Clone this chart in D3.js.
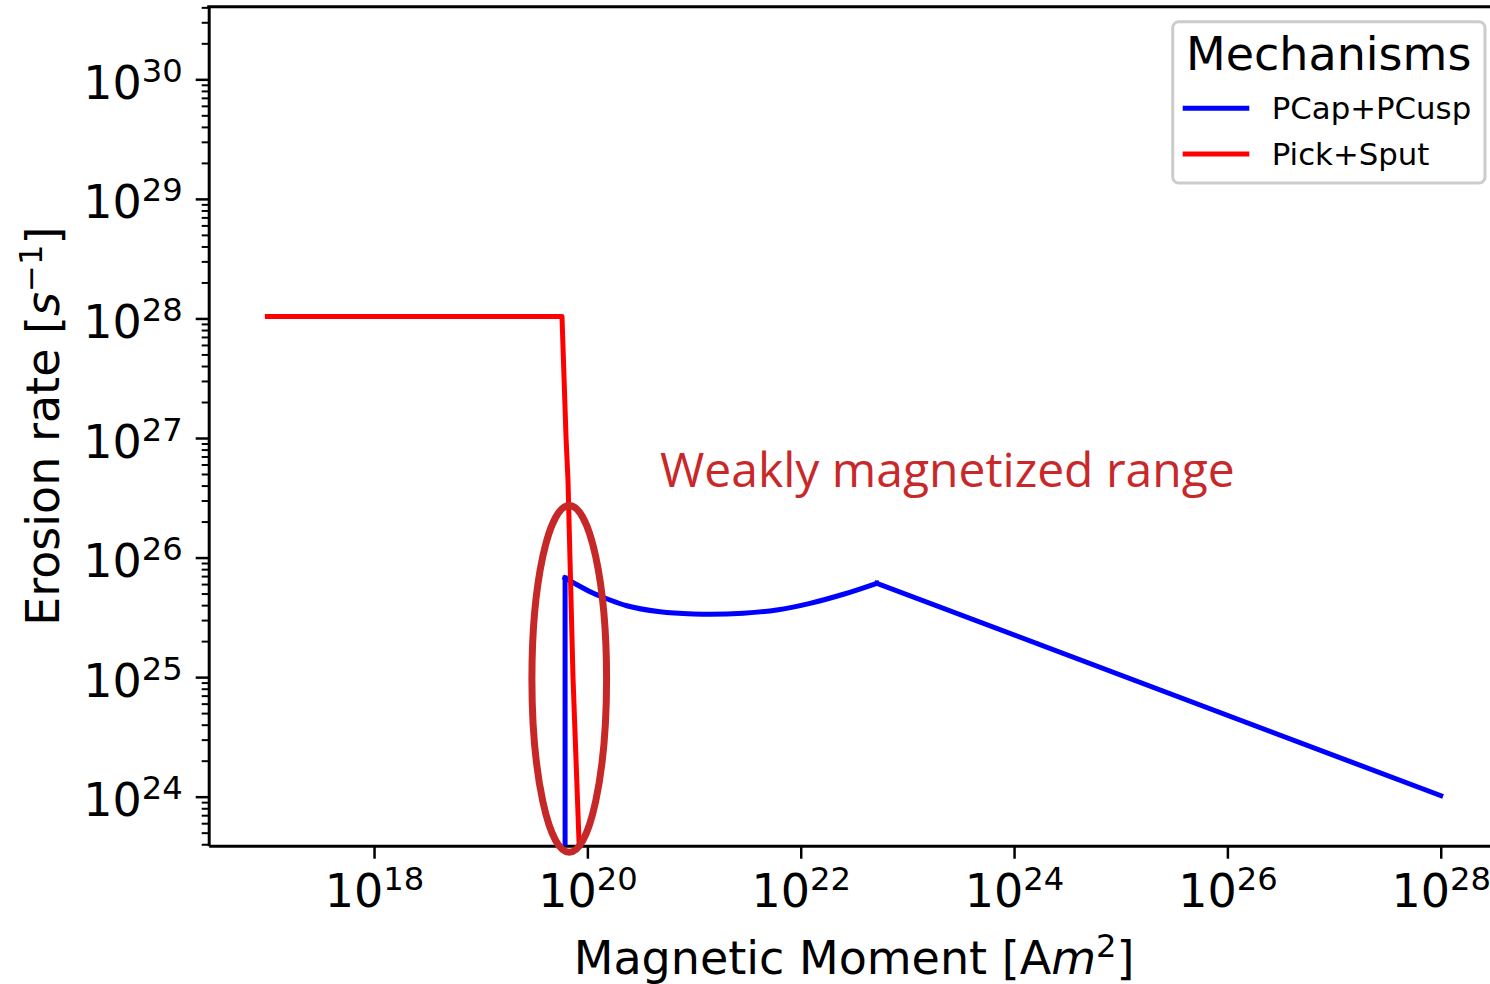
<!DOCTYPE html>
<html>
<head>
<meta charset="utf-8">
<script src="https://cdn.jsdelivr.net/npm/d3@7"></script>
<style>
  body { margin: 0; background: #fff; }
  svg { display: block; }
</style>
</head>
<body>
<div class="chart_area"></div>
<script>
// Pick+Sput (red)
var pickSputMoment = [1e17, 5.78e19, 6.31e19, 6.58e19, 7.33e19, 8.36e19, 8.91e19];
var pickSputRate   = [1.04e28, 1.04e28, 1e27, 4.43e26, 1e25, 4.07e23, 1e23];

// PCap+PCusp (blue)
var pcapMoment = [6.18e19, 6.18e19, 7.38e19, 1.138e20, 1.629e20, 2.339e20, 4.797e20, 9.84e20,
                  1.413e21, 2.897e21, 5.957e21, 1.222e22, 2.512e22, 5.164e22, 1e28];
var pcapRate   = [1e20, 6.745e25, 6.166e25, 5.023e25, 4.416e25, 3.954e25, 3.524e25, 3.373e25,
                  3.35e25, 3.42e25, 3.639e25, 4.14e25, 4.932e25, 6.095e25, 1.02e24];

var mechanisms = ["PCap+PCusp", "Pick+Sput"];
var mechanismColors = ["#0000ff", "#ff0000"];

var xTickExps = [18, 20, 22, 24, 26, 28];
var yTickExps = [24, 25, 26, 27, 28, 29, 30];
var xLimits = [2.818e16, 3.548e28];
var yLimits = [3.89e23, 4.05e30];

// annotation: weakly magnetized range
var rangeLabel = "Weakly magnetized range";
var rangeLabelAt = [4.8e20, 3.9e26];
var ellipseCenter = [6.76e19, 9.66e24];
var ellipseDecades = [0.35, 1.45];

var W = 1490, H = 984;
var margin = {top: 6.7, left: 208.7},
    width = 1290.7,
    height = 839;

var svg = d3.select(".chart_area").append("svg")
    .attr("width", W)
    .attr("height", H)
    .style("font-family", "'DejaVu Sans', sans-serif");

var g = svg.append("g")
    .attr("transform", "translate(" + margin.left + "," + margin.top + ")");

var x = d3.scaleLog().domain(xLimits).range([0, width]);
var y = d3.scaleLog().domain(yLimits).range([height, 0]);

g.append("clipPath").attr("id", "plotclip")
  .append("rect")
    .attr("width", width)
    .attr("height", height);

// minor y ticks
var yMinor = [];
for (var e = 23; e <= 30; e++) {
    for (var m = 2; m <= 9; m++) {
        var v = m * Math.pow(10, e);
        if (v >= yLimits[0] && v <= yLimits[1]) yMinor.push(v);
    }
}

var yMinorAxis = g.append("g")
    .call(d3.axisLeft(y).tickValues(yMinor).tickSize(7).tickSizeOuter(0).tickFormat(""));
yMinorAxis.select(".domain").remove();
yMinorAxis.selectAll("line").attr("stroke", "#000").attr("stroke-width", 2);

function supLabel(sel, exps) {
    sel.each(function(d, i) {
        var t = d3.select(this);
        t.text(null);
        t.append("tspan").text("10");
        t.append("tspan")
          .attr("font-size", "0.7em")
          .attr("dy", -17)
          .text(exps[i]);
    });
}

var yAxis = g.append("g")
    .call(d3.axisLeft(y)
        .tickValues(yTickExps.map(function(d) { return Math.pow(10, d); }))
        .tickSize(13).tickPadding(13).tickSizeOuter(0));
yAxis.select(".domain").attr("stroke", "#000").attr("stroke-width", 3);
yAxis.selectAll("line").attr("stroke", "#000").attr("stroke-width", 2.5);
yAxis.selectAll("text")
    .attr("font-size", 46)
    .attr("font-family", "'DejaVu Sans', sans-serif")
    .attr("fill", "#000")
    .attr("dy", 19)
    .call(supLabel, yTickExps);

var xAxis = g.append("g")
    .attr("transform", "translate(0," + height + ")")
    .call(d3.axisBottom(x)
        .tickValues(xTickExps.map(function(d) { return Math.pow(10, d); }))
        .tickSize(13).tickSizeOuter(0));
xAxis.select(".domain").attr("stroke", "#000").attr("stroke-width", 3);
xAxis.selectAll("line").attr("stroke", "#000").attr("stroke-width", 2.5);
xAxis.selectAll("text")
    .attr("font-size", 46)
    .attr("font-family", "'DejaVu Sans', sans-serif")
    .attr("fill", "#000")
    .attr("y", 61)
    .attr("dy", 0)
    .call(supLabel, xTickExps);

// top and right spines
g.append("line")
    .attr("x1", -1.5).attr("x2", width + 1.5)
    .attr("y1", 0).attr("y2", 0)
    .attr("stroke", "#000").attr("stroke-width", 3);
g.append("line")
    .attr("x1", width).attr("x2", width)
    .attr("y1", 0).attr("y2", height)
    .attr("stroke", "#000").attr("stroke-width", 3);

// series
var lineStraight = d3.line()
    .x(function(d) { return x(d[0]); })
    .y(function(d) { return y(d[1]); });
var lineSmooth = d3.line()
    .x(function(d) { return x(d[0]); })
    .y(function(d) { return y(d[1]); })
    .curve(d3.curveMonotoneX);

var pcap = d3.zip(pcapMoment, pcapRate),
    pick = d3.zip(pickSputMoment, pickSputRate);

// blue: vertical jump, smooth dip up to the kink, straight tail
var pieces = [
    {pts: pcap.slice(0, 2), fn: lineStraight, c: mechanismColors[0]},
    {pts: pcap.slice(1, pcap.length - 1), fn: lineSmooth, c: mechanismColors[0]},
    {pts: pcap.slice(pcap.length - 2), fn: lineStraight, c: mechanismColors[0]},
    {pts: pick, fn: lineStraight, c: mechanismColors[1]}
];

g.append("g")
    .attr("clip-path", "url(#plotclip)")
  .selectAll("path")
    .data(pieces)
    .enter()
    .append("path")
    .attr("d", function(d) { return d.fn(d.pts); })
    .attr("fill", "none")
    .attr("stroke", function(d) { return d.c; })
    .attr("stroke-width", 5)
    .attr("stroke-linecap", "square")
    .attr("stroke-linejoin", "round");

// annotation
var ecx = x(ellipseCenter[0]),
    ecy = y(ellipseCenter[1]);
g.append("ellipse")
    .attr("cx", ecx)
    .attr("cy", ecy)
    .attr("rx", x(ellipseCenter[0] * Math.pow(10, ellipseDecades[0])) - ecx)
    .attr("ry", ecy - y(ellipseCenter[1] * Math.pow(10, ellipseDecades[1])))
    .attr("fill", "none")
    .attr("stroke", "#c62828")
    .attr("stroke-width", 7);

g.append("text")
    .attr("x", x(rangeLabelAt[0]))
    .attr("y", y(rangeLabelAt[1]))
    .attr("font-family", "'Open Sans', sans-serif")
    .attr("font-size", 48)
    .attr("fill", "#c8282a")
    .text(rangeLabel);

// axis labels
svg.append("text")
    .attr("x", margin.left + width / 2)
    .attr("y", 974)
    .attr("text-anchor", "middle")
    .attr("font-size", 46)
    .call(function(t) {
        t.append("tspan").text("Magnetic Moment [A");
        t.append("tspan").attr("font-style", "italic").text("m");
        t.append("tspan").attr("font-size", "0.7em").attr("dy", -17).text("2");
        t.append("tspan").attr("dy", 17).text("]");
    });

svg.append("text")
    .attr("transform", "translate(59," + (margin.top + height / 2) + ") rotate(-90)")
    .attr("text-anchor", "middle")
    .attr("font-size", 46)
    .call(function(t) {
        t.append("tspan").text("Erosion rate [");
        t.append("tspan").attr("font-style", "italic").text("s");
        t.append("tspan").attr("font-size", "0.7em").attr("dy", -17).text("\u22121");
        t.append("tspan").attr("dy", 17).text("]");
    });

// legend
var legend = svg.append("g")
    .attr("transform", "translate(1172.7,21.7)");
legend.append("rect")
    .attr("width", 312.3)
    .attr("height", 161.3)
    .attr("rx", 6)
    .attr("fill", "#fff")
    .attr("fill-opacity", 0.8)
    .attr("stroke", "#cccccc")
    .attr("stroke-width", 3);
legend.append("text")
    .attr("x", 156)
    .attr("y", 48.3)
    .attr("text-anchor", "middle")
    .attr("font-size", 46)
    .text("Mechanisms");

var items = legend.selectAll(".item")
    .data(mechanisms)
    .enter()
    .append("g")
    .attr("class", "item")
    .attr("transform", function(d, i) { return "translate(0," + (86.6 + i * 45.7) + ")"; });
items.append("line")
    .attr("x1", 10).attr("x2", 76.6)
    .attr("y1", 0).attr("y2", 0)
    .attr("stroke", function(d, i) { return mechanismColors[i]; })
    .attr("stroke-width", 5);
items.append("text")
    .attr("x", 99)
    .attr("y", 10.5)
    .attr("font-size", 30.8)
    .text(function(d) { return d; });
</script>
</body>
</html>
